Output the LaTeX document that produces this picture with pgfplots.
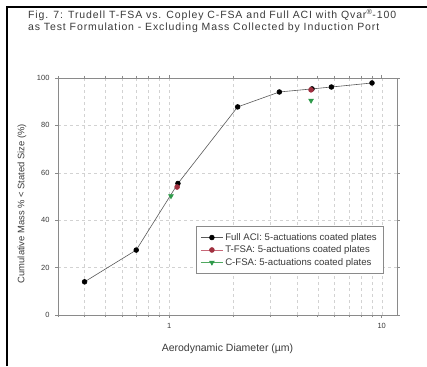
\documentclass[border=0pt]{standalone}
\usepackage{pgfplots}
\pgfplotsset{compat=1.18}
\usepackage{fontspec}
\setmainfont{Liberation Sans}
\definecolor{txt}{HTML}{3A3A3A}
\definecolor{axgray}{HTML}{8A8A8A}
\definecolor{gridgray}{HTML}{D2D2D2}
\definecolor{tred}{HTML}{A0303F}
\definecolor{tredl}{HTML}{C86878}
\definecolor{cgreen}{HTML}{2E9A4A}
\definecolor{cgreenl}{HTML}{50A860}
\begin{document}
\begin{tikzpicture}
\path[use as bounding box] (0pt,0pt) rectangle (427pt,366pt);
\draw[black, line width=1.1pt] (7pt,0pt) -- (7pt,359pt) -- (427pt,359pt);
\node[anchor=west, font=\fontsize{10.5}{11}\selectfont\addfontfeature{LetterSpace=8.5}, text=txt, inner sep=0pt] at (28pt,351pt) {Fig. 7: Trudell T-FSA vs. Copley C-FSA and Full ACI with Qvar\textsuperscript{\textregistered}-100};
\node[anchor=west, font=\fontsize{10.5}{11}\selectfont\addfontfeature{LetterSpace=8.5}, text=txt, inner sep=0pt] at (28pt,338pt) {as Test Formulation - Excluding Mass Collected by Induction Port};
\begin{axis}[
  at={(58pt,51pt)}, anchor=south west,
  width=339pt, height=237pt, scale only axis,
  xmode=log, xmin=0.3, xmax=11.8, ymin=0, ymax=100,
  ytick={0,20,40,60,80,100},
  xtick={1,10}, xticklabels={1,10},
  minor xtick={0.3,0.4,0.5,0.6,0.7,0.8,0.9,2,3,4,5,6,7,8,9},
  /pgf/number format/assume math mode=true,
  tick align=outside,
  major tick length=3pt, minor tick length=2pt,
  axis line style={axgray, line width=0.8pt},
  every tick/.style={axgray, line width=0.5pt},
  xmajorgrids, xminorgrids, ymajorgrids,
  major grid style={gridgray, dashed, line width=0.4pt},
  minor grid style={gridgray, dashed, line width=0.4pt},
  tick label style={font=\fontsize{7.5}{8}\selectfont, text=txt},
  xticklabel style={yshift=-2pt},
  yticklabel style={xshift=-2pt},
  xlabel={Aerodynamic Diameter (µm)},
  ylabel={Cumulative Mass \% < Stated Size (\%)},
  every axis x label/.style={at={(axis description cs:0.5,-0.143)}, anchor=center, font=\fontsize{10.5}{12}\selectfont, text=txt},
  every axis y label/.style={at={(axis description cs:-0.106,0.47)}, anchor=center, rotate=90, font=\fontsize{9.4}{10}\selectfont, text=txt},
  unbounded coords=jump,
  legend style={at={(axis description cs:0.959,0.3755)}, anchor=north east, draw=axgray, line width=0.6pt, font=\fontsize{9.6}{12}\selectfont, text=txt, row sep=0pt, inner xsep=4pt, inner ysep=5pt, legend cell align=left},
  legend image code/.code={\draw[#1, mark repeat=2, mark phase=2] plot coordinates {(0pt,0pt) (11pt,0pt) (22pt,0pt)};},
]
\addplot[color=black!65, line width=0.6pt, mark=*, mark size=2.4pt, mark options={fill=black, draw=black}]
  coordinates {(0.40,14.0) (0.70,27.4) (1.10,55.5) (2.10,87.8) (3.30,94.1) (4.70,95.4) (5.80,96.2) (9.00,97.9)};
\addlegendentry{Full ACI: 5-actuations coated plates}
\addplot[color=tredl, line width=0.7pt, mark=*, mark size=2.4pt, mark options={fill=tred, draw=tred}]
  coordinates {(1.09,54.0) (2.0,nan) (4.65,95.0)};
\addlegendentry{T-FSA: 5-actuations coated plates}
\addplot[color=cgreenl, line width=0.7pt, mark=triangle*, mark size=2.6pt, mark options={fill=cgreen, draw=cgreen, rotate=180}]
  coordinates {(1.02,50.2) (2.0,nan) (4.65,90.5)};
\addlegendentry{C-FSA: 5-actuations coated plates}
\end{axis}
\end{tikzpicture}
\end{document}
